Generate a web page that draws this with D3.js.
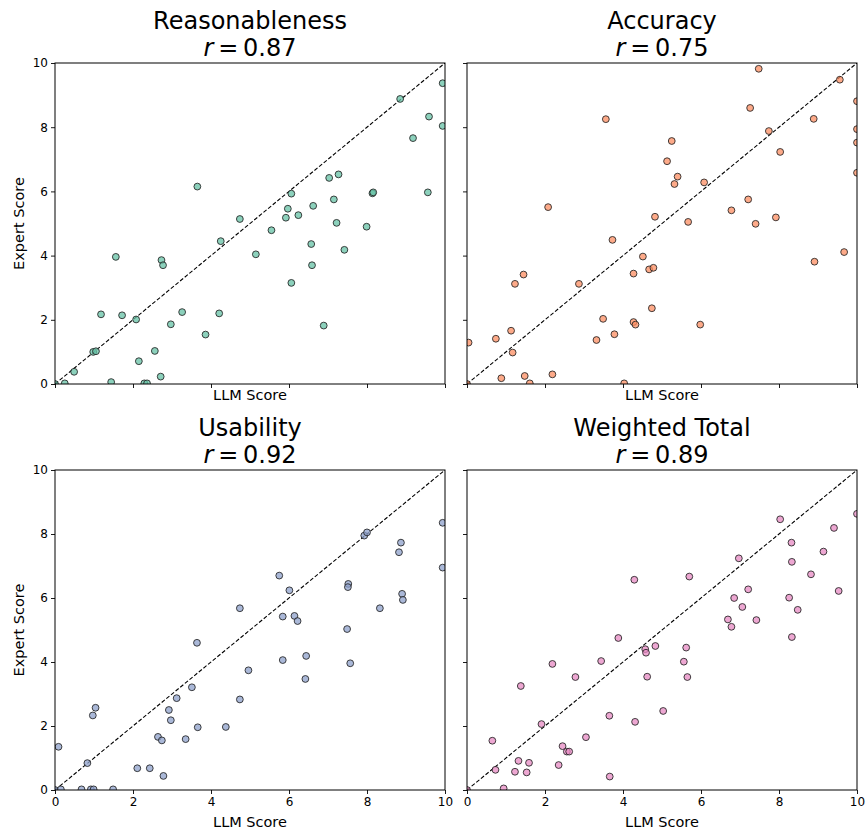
<!DOCTYPE html>
<html><head><meta charset="utf-8">
<script src="https://cdn.jsdelivr.net/npm/d3@7/dist/d3.min.js"></script>
<style>body{margin:0;background:#fff;} text{font-family:"DejaVu Sans",sans-serif;fill:#000;}</style>
</head><body>
<svg id="c" width="867" height="829"></svg>
<script>
const tickValues = [0, 2, 4, 6, 8, 10];
const titles = ["Reasonableness", "Accuracy", "Usability", "Weighted Total"];
const rValues = ["0.87", "0.75", "0.92", "0.89"];
const colors = ["#66c2a5", "#fc8d62", "#8da0cb", "#e78ac3"];

const reasonLLM = [0,3.65,4.74,4.25,1.56,2.73,2.77,1.18,1.72,2.08,3.26,4.21,2.97,3.86,0.98,1.05,2.56,2.15,0.49,2.71,1.44,0.25,2.29,2.36,
  9.94,8.85,9.59,9.94,9.18,7.03,7.27,6.06,8.14,8.16,9.56,5.97,6.62,7.15,5.92,6.24,5.55,7.22,7.99,5.15,6.57,7.42,6.59,6.06,6.89];
const reasonExp = [0,6.15,5.14,4.45,3.96,3.86,3.70,2.17,2.14,2.01,2.24,2.20,1.86,1.54,1.00,1.02,1.03,0.71,0.38,0.23,0.06,0.02,0.02,0.02,
  9.37,8.88,8.33,8.04,7.66,6.42,6.53,5.93,5.94,5.97,5.97,5.46,5.55,5.75,5.18,5.26,4.79,5.02,4.90,4.04,4.36,4.18,3.70,3.15,1.82];

const accLLM = [0,3.56,2.08,4.82,3.73,4.51,4.27,4.67,4.78,1.45,1.23,2.87,4.74,3.49,4.27,4.32,1.13,0.74,0.04,3.32,3.78,1.17,0.88,1.48,2.19,1.61,4.03,
  7.48,9.56,10.0,7.26,8.89,7.74,10.0,10.0,5.25,5.13,8.03,5.40,5.32,6.08,10.0,7.21,6.78,5.67,7.40,7.92,9.67,8.91,5.98];
const accExp = [0,8.25,5.51,5.21,4.49,3.97,3.44,3.57,3.62,3.41,3.12,3.12,2.36,2.03,1.93,1.85,1.66,1.41,1.29,1.37,1.55,0.98,0.18,0.25,0.30,0.02,0.02,
  9.82,9.48,8.81,8.60,8.26,7.88,7.94,7.52,7.57,6.94,7.23,6.46,6.23,6.28,6.58,5.75,5.41,5.05,4.99,5.19,4.11,3.81,1.85];

const useLLM = [0,4.74,3.64,4.96,3.51,3.12,4.74,2.92,2.97,1.04,0.97,3.66,4.38,2.64,2.74,3.35,0.09,0.83,2.11,2.43,2.78,0.15,0.68,0.92,0.99,1.49,
  9.94,9.94,7.93,8.0,8.87,8.82,5.75,6.01,7.52,7.51,8.90,8.92,5.84,6.14,6.22,8.33,7.49,6.44,5.84,7.57,6.42];
const useExp = [0,5.68,4.60,3.74,3.21,2.87,2.83,2.50,2.18,2.57,2.33,1.96,1.97,1.66,1.55,1.59,1.35,0.84,0.68,0.68,0.44,0.02,0.02,0.02,0.02,0.02,
  8.35,6.95,7.95,8.05,7.73,7.43,6.70,6.24,6.44,6.34,6.13,5.94,5.42,5.44,5.28,5.68,5.03,4.19,4.06,3.96,3.47];

const totLLM = [0,4.29,3.88,4.57,4.59,4.83,2.19,3.44,2.78,4.62,1.38,3.65,4.31,1.91,3.05,0.65,2.45,2.56,2.62,1.32,1.59,2.35,0.73,1.23,1.53,3.66,0.94,
  10.0,8.03,9.41,8.32,9.14,6.97,8.33,8.82,5.70,7.21,9.53,6.85,8.26,7.06,8.48,6.69,6.78,7.42,8.33,5.62,5.56,5.65,5.03];
const totExp = [0,6.57,4.75,4.40,4.29,4.50,3.94,4.03,3.53,3.54,3.25,2.32,2.13,2.06,1.65,1.54,1.37,1.20,1.20,0.91,0.85,0.78,0.63,0.57,0.55,0.42,0.05,
  8.63,8.46,8.19,7.73,7.45,7.24,7.13,6.74,6.67,6.27,6.22,6.00,6.01,5.72,5.63,5.33,5.10,5.31,4.78,4.45,4.01,3.53,2.47];

const panelsData = [[reasonLLM, reasonExp], [accLLM, accExp], [useLLM, useExp], [totLLM, totExp]];
const boxes = [
  {l:55, r:445, t:63, b:384, row:0, col:0},
  {l:467, r:857, t:63, b:384, row:0, col:1},
  {l:55, r:445, t:470, b:790, row:1, col:0},
  {l:467, r:857, t:470, b:790, row:1, col:1}
];

const svg = d3.select("#c");
boxes.forEach((bx, i) => {
  const x = d3.scaleLinear().domain([0, 10]).range([bx.l, bx.r]);
  const y = d3.scaleLinear().domain([0, 10]).range([bx.b, bx.t]);
  const g = svg.append("g");
  const cid = "clip" + i;
  svg.append("clipPath").attr("id", cid).append("rect")
    .attr("x", bx.l).attr("y", bx.t).attr("width", bx.r - bx.l).attr("height", bx.b - bx.t);

  const xa = d3.axisBottom(x).tickValues(tickValues).tickSize(4).tickPadding(3);
  if (bx.row === 0) xa.tickFormat("");
  const ya = d3.axisLeft(y).tickValues(tickValues).tickSize(4).tickPadding(3);
  if (bx.col === 1) ya.tickFormat("");
  const gx = g.append("g").attr("transform", `translate(0,${bx.b})`).call(xa);
  const gy = g.append("g").attr("transform", `translate(${bx.l},0)`).call(ya);
  [gx, gy].forEach(a => {
    a.select(".domain").remove();
    a.selectAll("line").attr("stroke", "#000").attr("stroke-width", 0.9);
    a.selectAll("text").attr("font-size", 12).attr("font-family", "DejaVu Sans").attr("fill", "#000");
  });

  const pg = g.append("g").attr("clip-path", `url(#${cid})`);
  pg.append("line").attr("x1", x(0)).attr("y1", y(0)).attr("x2", x(10)).attr("y2", y(10))
    .attr("stroke", "#000").attr("stroke-width", 1.1).attr("stroke-dasharray", "4,2");
  const [xs, ys] = panelsData[i];
  pg.selectAll("circle").data(xs.map((v, k) => [v, ys[k]])).join("circle")
    .attr("cx", d => x(d[0])).attr("cy", d => y(d[1])).attr("r", 3.4)
    .attr("fill", colors[i]).attr("fill-opacity", 0.75)
    .attr("stroke", "#222").attr("stroke-opacity", 0.85).attr("stroke-width", 1);

  g.append("rect").attr("x", bx.l).attr("y", bx.t).attr("width", bx.r - bx.l).attr("height", bx.b - bx.t)
    .attr("fill", "none").attr("stroke", "#000").attr("stroke-width", 1);

  const cx = (bx.l + bx.r) / 2;
  g.append("text").attr("x", cx).attr("y", bx.t - 34).attr("text-anchor", "middle")
    .attr("font-size", 24).text(titles[i]);
  const t2 = g.append("text").attr("x", cx).attr("y", bx.t - 7).attr("text-anchor", "middle").attr("font-size", 24);
  t2.append("tspan").attr("font-style", "italic").text("r");
  t2.append("tspan").text("\u2009=\u2009" + rValues[i]);

  g.append("text").attr("x", cx).attr("y", bx.b + (bx.row === 0 ? 16 : 37)).attr("text-anchor", "middle")
    .attr("font-size", 14.5).text("LLM Score");
  if (bx.col === 0) {
    g.append("text").attr("transform", `translate(24,${(bx.t + bx.b) / 2}) rotate(-90)`)
      .attr("text-anchor", "middle").attr("font-size", 14.5).text("Expert Score");
  }
});
</script>
</body></html>
